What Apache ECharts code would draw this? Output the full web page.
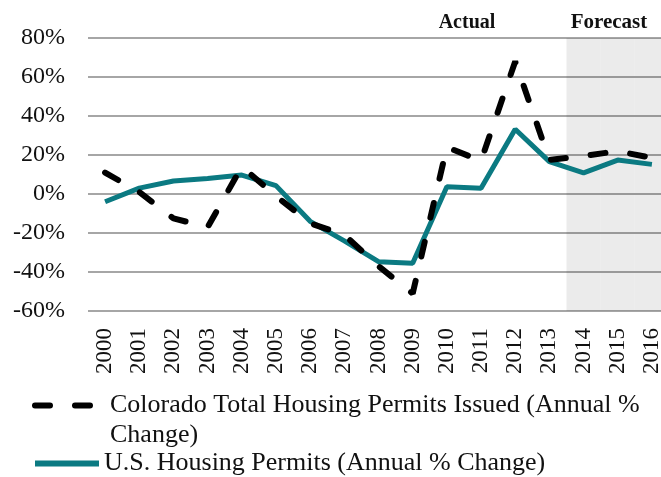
<!DOCTYPE html>
<html>
<head>
<meta charset="utf-8">
<script src="https://cdn.jsdelivr.net/npm/echarts@6/dist/echarts.min.js"></script>
<style>
html,body{margin:0;padding:0;background:#fff;}
#chart{width:661px;height:477px;}
</style>
</head>
<body>
<div id="chart"></div>
<script>
var years=['2000','2001','2002','2003','2004','2005','2006','2007','2008','2009','2010','2011','2012','2013','2014','2015','2016'];
var colorado=[11, 1, -12.5, -17, 14, -1, -15, -21, -37, -51, 24, 17, 68, 17.5, 19.5, 22, 18.5];
var us=[-4, 3, 6.7, 8, 9.7, 4.3, -14, -24, -34.7, -35.5, 3.7, 2.9, 33.2, 16.6, 10.8, 17.4, 15.2];
var yTicks=[-60, 80, 20]; // min, max, interval
var forecastYears=['2014','2015','2016'];

var coName='Colorado Total Housing Permits Issued (Annual % Change)';
var usName='U.S. Housing Permits (Annual % Change)';
var font='Liberation Serif';

// shaded forecast band: full height bars on the forecast years only
var bandTop=years.map(function(y){return forecastYears.indexOf(y)>=0?yTicks[1]:null;});
var bandBottom=years.map(function(y){return forecastYears.indexOf(y)>=0?yTicks[0]:null;});

var chart=echarts.init(document.getElementById('chart'));
var option={
	animation:false,
	grid:{left:88,top:38,width:581,height:273,outerBoundsMode:'none'},
	xAxis:{
		type:'category',
		data:years,
		boundaryGap:true,
		axisLine:{show:false},
		axisTick:{show:false},
		axisLabel:{rotate:90,margin:17,fontFamily:font,fontSize:23,color:'#111'}
	},
	yAxis:{
		type:'value',
		min:yTicks[0],max:yTicks[1],interval:yTicks[2],
		axisLine:{show:false},
		axisTick:{show:false},
		axisLabel:{formatter:'{value}%',margin:23,fontFamily:font,fontSize:24,color:'#111'},
		splitLine:{lineStyle:{color:'#a6a6a6',width:2}}
	},
	legend:[{
		data:[coName],
		left:27,top:386,
		itemWidth:70,itemHeight:14,
		formatter:function(){return 'Colorado Total Housing Permits Issued (Annual %';},
		itemStyle:{opacity:0},
		lineStyle:{width:6,type:[15,25],cap:'round'},
		textStyle:{fontFamily:font,fontSize:26,color:'#111',lineHeight:29}
	},{
		data:[usName],
		left:27,top:444,
		itemWidth:64,itemHeight:14,
		itemStyle:{opacity:0},
		lineStyle:{width:6},
		textStyle:{fontFamily:font,fontSize:26,color:'#111',lineHeight:29}
	}],
	graphic:[
		{type:'text',x:110,y:435,style:{text:'Change)',fontFamily:font,fontSize:26,fill:'#111',verticalAlign:'middle'}},
		{type:'text',x:467,y:23,style:{text:'Actual',fontFamily:font,fontSize:20,fontWeight:'bold',fill:'#111',align:'center',verticalAlign:'middle'}},
		{type:'text',x:609,y:23,style:{text:'Forecast',fontFamily:font,fontSize:21,fontWeight:'bold',fill:'#111',align:'center',verticalAlign:'middle'}}
	],
	series:[{
		type:'bar',
		data:bandTop,
		barWidth:'100%',
		barGap:'-100%',
		silent:true,
		z:1,
		itemStyle:{color:'rgba(0,0,0,0.08)'}
	},{
		type:'bar',
		data:bandBottom,
		barWidth:'100%',
		barGap:'-100%',
		silent:true,
		z:1,
		itemStyle:{color:'rgba(0,0,0,0.08)'}
	},{
		name:coName,
		type:'line',
		data:colorado,
		symbol:'none',
		z:3,
		lineStyle:{color:'#000',width:6,type:[15,25],cap:'round'},
		itemStyle:{color:'#000'}
	},{
		name:usName,
		type:'line',
		data:us,
		symbol:'none',
		z:2,
		lineStyle:{color:'#0b7a82',width:5},
		itemStyle:{color:'#0b7a82'}
	}]
};
chart.setOption(option);
</script>
</body>
</html>
